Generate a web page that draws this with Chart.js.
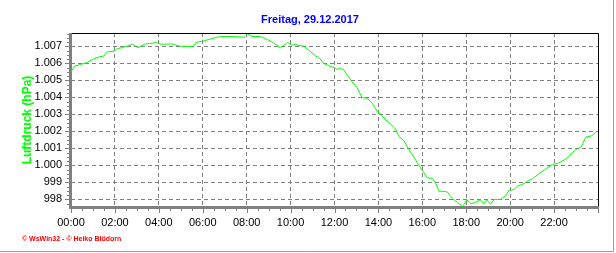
<!DOCTYPE html>
<html><head><meta charset="utf-8">
<script src="https://cdn.jsdelivr.net/npm/chart.js@4/dist/chart.umd.min.js"></script>
<style>html,body{margin:0;padding:0;background:#fff;overflow:hidden}canvas{display:block}</style>
</head><body>
<canvas id="c" width="616" height="253"></canvas>
<script>
const titleText = "Freitag, 29.12.2017";
const yAxisTitle = "Luftdruck (hPa)";
const footerText = "© WsWin32 - © Heiko Blödorn";

const hours = [0.00,0.17,0.44,0.74,0.97,1.27,1.50,1.65,1.96,2.10,2.34,2.64,2.80,3.04,3.35,3.58,3.89,4.10,4.57,4.97,5.58,5.70,6.03,6.19,6.57,6.80,7.40,7.94,8.06,8.24,8.62,8.92,9.23,9.53,9.87,10.07,10.20,10.60,10.83,11.13,11.28,11.51,11.74,12.00,12.12,12.27,12.42,12.58,12.80,13.03,13.26,13.49,13.72,13.95,14.10,14.33,14.55,14.78,14.93,15.16,15.39,15.62,15.84,16.03,16.22,16.45,16.60,16.76,16.99,17.14,17.37,17.60,17.83,18.03,18.21,18.44,18.63,18.79,18.93,19.12,19.27,19.57,19.80,19.95,20.18,20.33,20.56,20.79,21.02,21.32,21.62,21.93,22.23,22.54,22.77,22.99,23.22,23.45,23.72,23.94];
const pressure = [1005.50,1005.83,1005.93,1006.05,1006.22,1006.37,1006.43,1006.67,1006.71,1006.86,1006.92,1007.04,1007.12,1006.92,1007.12,1007.16,1007.22,1007.12,1007.14,1007.00,1007.00,1007.23,1007.31,1007.37,1007.51,1007.57,1007.57,1007.53,1007.70,1007.58,1007.57,1007.41,1007.20,1006.90,1007.22,1007.06,1007.10,1007.00,1006.77,1006.43,1006.36,1005.99,1005.85,1005.75,1005.64,1005.71,1005.62,1005.30,1004.91,1004.56,1003.98,1003.94,1003.65,1003.16,1003.02,1002.67,1002.44,1002.13,1001.70,1001.46,1000.92,1000.47,1000.00,999.65,999.26,999.24,998.97,998.48,998.47,998.43,998.06,997.81,997.58,997.97,997.75,997.81,998.00,997.75,997.97,997.71,998.00,998.00,998.23,998.54,998.58,998.78,998.88,999.07,999.21,999.52,999.79,1000.05,1000.14,1000.38,1000.67,1000.92,1001.06,1001.66,1001.74,1001.99];

const xTickHours = [0,2,4,6,8,10,12,14,16,18,20,22];
const xTickLabels = ["00:00","02:00","04:00","06:00","08:00","10:00","12:00","14:00","16:00","18:00","20:00","22:00"];
const yTickValues = [998,999,1000,1001,1002,1003,1004,1005,1006,1007];
const yTickLabels = ["998","999","1.000","1.001","1.002","1.003","1.004","1.005","1.006","1.007"];

const FONT = '"Liberation Sans", Arial, sans-serif';

const frame = {
  id: 'frame',
  beforeDatasetsDraw(chart) {
    const {ctx, chartArea: a, scales: {x, y}} = chart;
    ctx.save();
    ctx.strokeStyle = '#000'; ctx.lineWidth = 1;
    ctx.beginPath();
    ctx.moveTo(a.left, a.top + 0.5); ctx.lineTo(a.right + 0.5, a.top + 0.5); ctx.lineTo(a.right + 0.5, a.bottom);
    ctx.stroke();
    ctx.fillStyle = '#808080';
    ctx.fillRect(a.left - 2, a.top, 3, a.bottom - a.top + 2);
    ctx.fillRect(a.left - 2, a.bottom - 1, a.right - a.left + 3, 3);
    // x ticks
    ctx.strokeStyle = '#808080';
    ctx.beginPath();
    for (let m = 0; m <= 48; m++) {
      const px = Math.round(x.getPixelForValue(m / 2)) + 0.5;
      const len = (m % 4 === 0) ? 4 : 2;
      ctx.moveTo(px, a.bottom + 2); ctx.lineTo(px, a.bottom + 2 + len);
    }
    // y ticks
    for (let k = 0; k <= 40; k++) {
      const v = 997.75 + k * 0.25;
      if (v > y.max) break;
      const py = Math.round(y.getPixelForValue(v)) + 0.5;
      const len = (k % 4 === 1) ? 4 : 2;
      ctx.moveTo(a.left - 2, py); ctx.lineTo(a.left - 2 - len, py);
    }
    ctx.stroke();
    ctx.restore();
  },
  afterDraw(chart) {
    const {ctx, chartArea: a} = chart;
    ctx.save();
    ctx.fillStyle = '#0000ff';
    ctx.font = 'bold 11px ' + FONT;
    ctx.textAlign = 'center'; ctx.textBaseline = 'alphabetic';
    ctx.fillText(titleText, 310, 23);
    ctx.save();
    ctx.translate(31, 120);
    ctx.rotate(-Math.PI / 2);
    ctx.fillStyle = '#00ff00';
    ctx.font = 'bold 12px ' + FONT;
    ctx.fillText(yAxisTitle, 0, 0);
    ctx.restore();
    ctx.fillStyle = '#ff0000';
    ctx.font = 'bold 7px ' + FONT;
    ctx.textAlign = 'left';
    ctx.fillText(footerText, 22, 241);
    ctx.strokeStyle = '#a0a0a0'; ctx.lineWidth = 1;
    ctx.beginPath();
    ctx.moveTo(613.5, 0); ctx.lineTo(613.5, 251.5); ctx.lineTo(0, 251.5);
    ctx.stroke();
    ctx.restore();
  }
};

new Chart(document.getElementById('c'), {
  type: 'line',
  data: {
    datasets: [{
      data: hours.map((h, i) => ({x: h, y: pressure[i]})),
      borderColor: '#00ff00', borderWidth: 1, pointRadius: 0, tension: 0, fill: false
    }]
  },
  options: {
    responsive: false, animation: false, devicePixelRatio: 1,
    layout: {padding: {top: 33, right: 18, left: 0, bottom: 0}},
    plugins: {legend: {display: false}, title: {display: false}, tooltip: {enabled: false}},
    scales: {
      x: {
        type: 'linear', min: 0, max: 24,
        afterBuildTicks: s => { s.ticks = xTickHours.map(v => ({value: v})); },
        afterFit: s => { s.height = 46; },
        ticks: {autoSkip: false, maxRotation: 0, padding: 9, color: '#000',
          font: {family: FONT, size: 11},
          callback: v => xTickLabels[xTickHours.indexOf(v)]},
        grid: {color: '#808080', lineWidth: 1, drawTicks: false},
        border: {display: false, dash: [4, 3]}
      },
      y: {
        type: 'linear', min: 997.55, max: 1007.78,
        afterBuildTicks: s => { s.ticks = yTickValues.map(v => ({value: v})); },
        afterFit: s => { s.width = 71; },
        ticks: {padding: 9, color: '#000', font: {family: FONT, size: 11},
          callback: v => yTickLabels[yTickValues.indexOf(v)]},
        grid: {color: '#808080', lineWidth: 1, drawTicks: false},
        border: {display: false, dash: [4, 3]}
      }
    }
  },
  plugins: [frame]
});
</script>
</body></html>
